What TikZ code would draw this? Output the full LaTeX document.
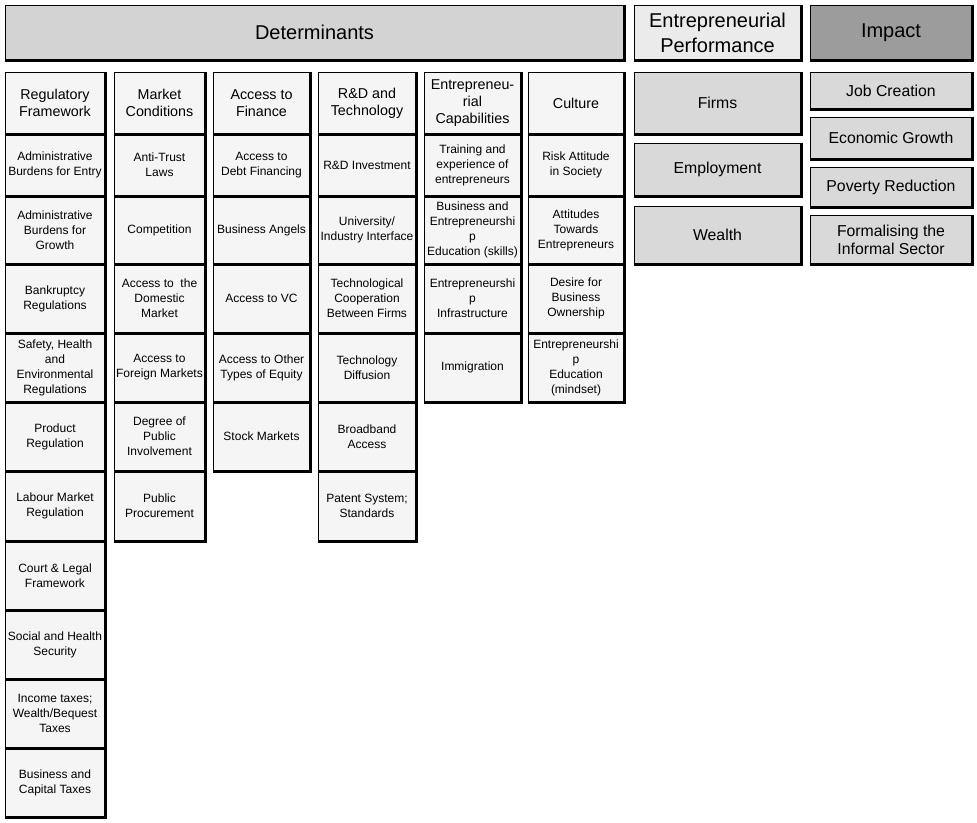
\documentclass[tikz,border=0pt]{standalone}
\usepackage{fontspec}
\setmainfont{Liberation Sans}
\definecolor{cellgray}{HTML}{F5F5F5}
\definecolor{detgray}{HTML}{D3D3D3}
\definecolor{perfgray}{HTML}{EBEBEB}
\definecolor{impgray}{HTML}{9C9C9C}
\definecolor{itemgray}{HTML}{D9D9D9}
\tikzstyle{box}=[rectangle,draw,line width=0.8pt,fill=cellgray,inner sep=1pt,align=center]
\tikzstyle{cell}=[box,font=\fontsize{12}{15}\selectfont]
\tikzstyle{colhead}=[box,font=\fontsize{14.3}{17.3}\selectfont]
\tikzstyle{bar}=[box,minimum height=55pt,font=\fontsize{20}{25}\selectfont]
\tikzstyle{result}=[box,fill=itemgray,font=\fontsize{15.8}{18.3}\selectfont]
\tikzstyle{edge}=[line width=2.4pt]
\begin{document}
\begin{tikzpicture}[x=1pt,y=-1pt]
  \useasboundingbox (0,0) rectangle (977,822);
  % top bars
  \node[bar,fill=detgray,minimum width=619pt] (det) at (314.5,32.5) {Determinants};
  \node[bar,fill=perfgray,minimum width=167pt] (perf) at (717.5,32.5) {Entrepreneurial\\Performance};
  \node[bar,fill=impgray,minimum width=162pt] (imp) at (891,32.5) {Impact};
  % regulatory framework
  \node[colhead,minimum width=100pt,minimum height=62pt] (reg0) at (55,103) {Regulatory\\Framework};
  \node[cell,minimum width=100pt,minimum height=62pt] (reg1) at (55,165) {Administrative\\Burdens for Entry};
  \node[cell,minimum width=100pt,minimum height=68pt] (reg2) at (55,230) {Administrative\\Burdens for\\Growth};
  \node[cell,minimum width=100pt,minimum height=69pt] (reg3) at (55,298.5) {Bankruptcy\\Regulations};
  \node[cell,minimum width=100pt,minimum height=69pt] (reg4) at (55,367.5) {Safety, Health\\and\\Environmental\\Regulations};
  \node[cell,minimum width=100pt,minimum height=69pt] (reg5) at (55,436.5) {Product\\Regulation};
  \node[cell,minimum width=100pt,minimum height=70pt] (reg6) at (55,506) {Labour Market\\Regulation};
  \node[cell,minimum width=100pt,minimum height=69pt] (reg7) at (55,575.5) {Court \& Legal\\Framework};
  \node[cell,minimum width=100pt,minimum height=69pt] (reg8) at (55,644.5) {Social and Health\\Security};
  \node[cell,minimum width=100pt,minimum height=69pt] (reg9) at (55,713.5) {Income taxes;\\Wealth/Bequest\\Taxes};
  \node[cell,minimum width=100pt,minimum height=69pt] (reg10) at (55,782.5) {Business and\\Capital Taxes};
  % market conditions
  \node[colhead,minimum width=91pt,minimum height=62pt] (mkt0) at (159.5,103) {Market\\Conditions};
  \node[cell,minimum width=91pt,minimum height=62pt] (mkt1) at (159.5,165) {Anti-Trust\\Laws};
  \node[cell,minimum width=91pt,minimum height=68pt] (mkt2) at (159.5,230) {Competition};
  \node[cell,minimum width=91pt,minimum height=69pt] (mkt3) at (159.5,298.5) {Access to~ the\\Domestic\\Market};
  \node[cell,minimum width=91pt,minimum height=69pt] (mkt4) at (159.5,367.5) {Access to\\Foreign Markets};
  \node[cell,minimum width=91pt,minimum height=69pt] (mkt5) at (159.5,436.5) {Degree of\\Public\\Involvement};
  \node[cell,minimum width=91pt,minimum height=70pt] (mkt6) at (159.5,506) {Public\\Procurement};
  % access to finance
  \node[colhead,minimum width=97pt,minimum height=62pt] (fin0) at (261.5,103) {Access to\\Finance};
  \node[cell,minimum width=97pt,minimum height=62pt] (fin1) at (261.5,165) {Access to\\Debt Financing};
  \node[cell,minimum width=97pt,minimum height=68pt] (fin2) at (261.5,230) {Business Angels};
  \node[cell,minimum width=97pt,minimum height=69pt] (fin3) at (261.5,298.5) {Access to VC};
  \node[cell,minimum width=97pt,minimum height=69pt] (fin4) at (261.5,367.5) {Access to Other\\Types of Equity};
  \node[cell,minimum width=97pt,minimum height=69pt] (fin5) at (261.5,436.5) {Stock Markets};
  % r&d and technology
  \node[colhead,minimum width=98pt,minimum height=62pt] (rd0) at (367,103) {R\&D and\\Technology};
  \node[cell,minimum width=98pt,minimum height=62pt] (rd1) at (367,165) {R\&D Investment};
  \node[cell,minimum width=98pt,minimum height=68pt] (rd2) at (367,230) {University/\\Industry Interface};
  \node[cell,minimum width=98pt,minimum height=69pt] (rd3) at (367,298.5) {Technological\\Cooperation\\Between Firms};
  \node[cell,minimum width=98pt,minimum height=69pt] (rd4) at (367,367.5) {Technology\\Diffusion};
  \node[cell,minimum width=98pt,minimum height=69pt] (rd5) at (367,436.5) {Broadband\\Access};
  \node[cell,minimum width=98pt,minimum height=70pt] (rd6) at (367,506) {Patent System;\\Standards};
  % entrepreneurial capabilities
  \node[colhead,minimum width=97pt,minimum height=62pt] (cap0) at (472.5,103) {Entrepreneu-\\rial\\Capabilities};
  \node[cell,minimum width=97pt,minimum height=62pt] (cap1) at (472.5,165) {Training and\\experience of\\entrepreneurs};
  \node[cell,minimum width=97pt,minimum height=68pt] (cap2) at (472.5,230) {Business and\\Entrepreneurshi\\p\\Education (skills)};
  \node[cell,minimum width=97pt,minimum height=69pt] (cap3) at (472.5,298.5) {Entrepreneurshi\\p\\Infrastructure};
  \node[cell,minimum width=97pt,minimum height=69pt] (cap4) at (472.5,367.5) {Immigration};
  % culture
  \node[colhead,minimum width=96pt,minimum height=62pt] (cul0) at (576,103) {Culture};
  \node[cell,minimum width=96pt,minimum height=62pt] (cul1) at (576,165) {Risk Attitude\\in Society};
  \node[cell,minimum width=96pt,minimum height=68pt] (cul2) at (576,230) {Attitudes\\Towards\\Entrepreneurs};
  \node[cell,minimum width=96pt,minimum height=69pt] (cul3) at (576,298.5) {Desire for\\Business\\Ownership};
  \node[cell,minimum width=96pt,minimum height=69pt] (cul4) at (576,367.5) {Entrepreneurshi\\p\\Education\\(mindset)};
  % entrepreneurial performance
  \node[result,minimum width=167pt,minimum height=62pt] (firms) at (717.5,103) {Firms};
  \node[result,minimum width=167pt,minimum height=53pt] (employ) at (717.5,169.5) {Employment};
  \node[result,minimum width=167pt,minimum height=58pt] (wealth) at (717.5,235) {Wealth};
  % impact
  \node[result,minimum width=162pt,minimum height=37pt] (job) at (891,90.5) {Job Creation};
  \node[result,minimum width=162pt,minimum height=42pt] (growth) at (891,138) {Economic Growth};
  \node[result,minimum width=162pt,minimum height=40pt] (poverty) at (891,187) {Poverty Reduction};
  \node[result,minimum width=162pt,minimum height=49pt] (formal) at (891,239.5) {Formalising the\\Informal Sector};
  % heavy right and bottom edges
  \foreach \c/\n in {reg/10,mkt/6,fin/5,rd/6,cap/4,cul/4}
    \foreach \i in {0,...,\n}
      \draw[edge] (\c\i.north east) -- (\c\i.south east) -- (\c\i.south west);
  \foreach \b in {det,perf,imp,firms,employ,wealth,job,growth,poverty,formal}
    \draw[edge] (\b.north east) -- (\b.south east) -- (\b.south west);
\end{tikzpicture}
\end{document}
